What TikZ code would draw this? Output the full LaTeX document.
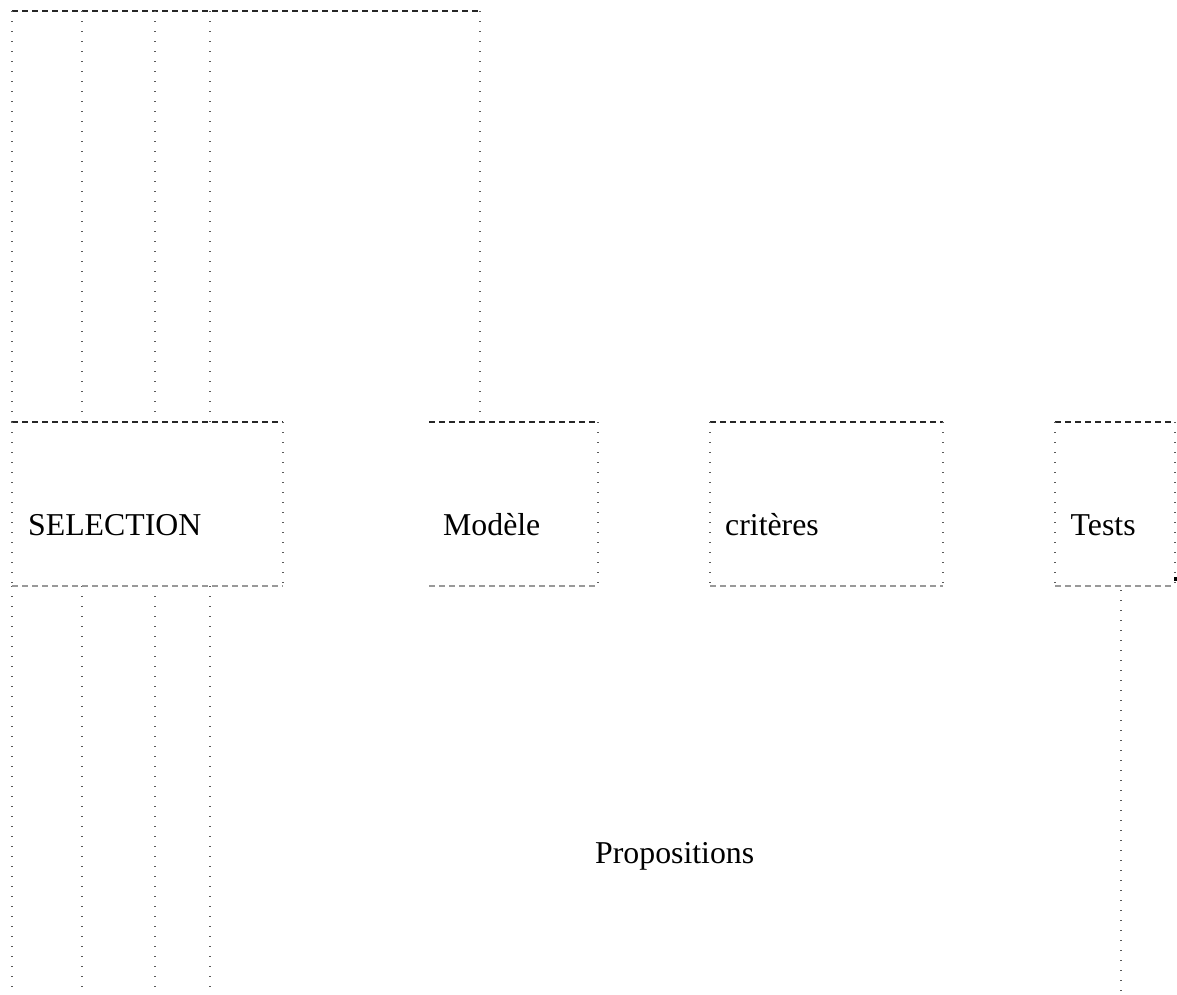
\documentclass[tikz,border=0pt]{standalone}
\usepackage{fontspec}
\setmainfont{Liberation Serif}
\begin{document}
\begin{tikzpicture}[x=1pt,y=-1pt,
    topline/.style={dash pattern=on 5.5pt off 4.5pt, line width=1.3pt, black!85},
    botline/.style={dash pattern=on 5.5pt off 4.5pt, line width=1.3pt, black!40},
    dotline/.style={dash pattern=on 1.3pt off 8.7pt, line width=1.3pt, black!65},
    frame/.style={rectangle, minimum height=164pt, inner sep=0pt, outer sep=0pt},
    lbl/.style={anchor=base west, inner sep=0pt, font=\fontsize{31.8}{38}\selectfont}]
    \useasboundingbox (0,0) rectangle (1177,994);
    % frames
    \node[frame, minimum width=271pt] (sel) at (147.5,504) {};
    \node[frame, minimum width=169pt] (mod) at (513.5,504) {};
    \node[frame, minimum width=233pt] (crit) at (826.5,504) {};
    \node[frame, minimum width=120pt] (tests) at (1115,504) {};
    % texts
    \node[lbl] (tsel) at (28,535) {SELECTION};
    \node[lbl] (tmod) at (443,535) {Modèle};
    \node[lbl] (tcrit) at (725,535) {critères};
    \node[lbl] (ttests) at (1070.5,535) {Tests};
    \node[lbl] (tprop) at (595,863) {Propositions};
    % top bar
    \coordinate (bar) at (12,11);
    \coordinate (barend) at (480,11);
    \coordinate (modin) at (480,412);
    \draw[topline] (bar) -- (barend);
    \draw[dotline] (barend) -- (modin);
    \foreach \x in {12,82,155,210} {
        \draw[dotline] (\x,11) -- (\x,422);
        \draw[dotline] (\x,586) -- (\x,994);
    }
    % box edges
    \foreach \b in {sel,crit,tests} {
        \draw[topline] (\b.north west) -- (\b.north east);
        \draw[botline] (\b.south west) -- (\b.south east);
        \draw[dotline] (\b.north west) -- (\b.south west);
        \draw[dotline] (\b.north east) -- (\b.south east);
    }
    \draw[topline] (mod.north west) -- (mod.north east);
    \draw[botline] (mod.south west) -- (mod.south east);
    \draw[dotline] (mod.north east) -- (mod.south east);
    % tests output
    \coordinate (out) at (1121,994);
    \draw[dotline] (tests.south) ++(6,4) -- (out);
    \fill (1173.5,577) rectangle (1176.5,581);
\end{tikzpicture}
\end{document}
